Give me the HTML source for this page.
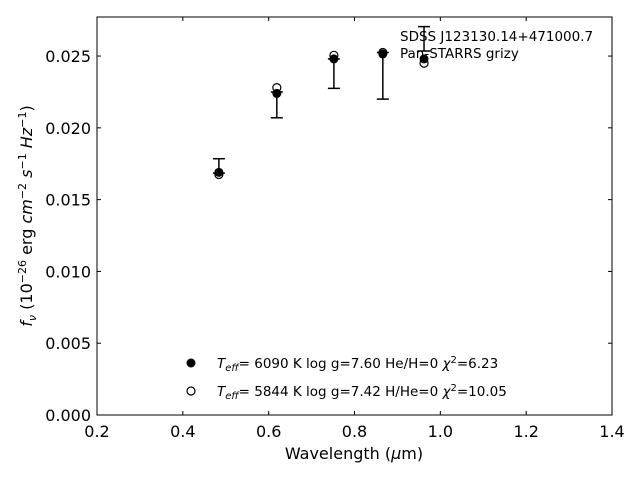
<!DOCTYPE html>
<html><head><meta charset="utf-8"><style>
html,body{margin:0;padding:0;background:#fff;}
svg{display:block;font-family:"DejaVu Sans","Liberation Sans",sans-serif;}
</style></head><body>
<svg id="chart" width="640" height="480"></svg>
<script>
const bands = ["g","r","i","z","y"];
const wavelengths = [0.484, 0.619, 0.752, 0.866, 0.962];
const obsLow = [0.01685, 0.02070, 0.02275, 0.02200, 0.02535];
const obsHigh = [0.01785, 0.02250, 0.02480, 0.02525, 0.02705];
const model1 = [0.01690, 0.02240, 0.02480, 0.02515, 0.02480];
const model2 = [0.01675, 0.02280, 0.02505, 0.02525, 0.02450];
const xTicks = [0.2,0.4,0.6,0.8,1.0,1.2,1.4];
const xTickLabels = ["0.2","0.4","0.6","0.8","1.0","1.2","1.4"];
const yTicks = [0,0.005,0.01,0.015,0.02,0.025];
const yTickLabels = ["0.000","0.005","0.010","0.015","0.020","0.025"];

const NS="http://www.w3.org/2000/svg";
const svg=document.getElementById('chart');
const L=97,R=612,T=17,B=415;
const xMin=0.2,xMax=1.4,yMin=0,yMax=0.02772;
const xs=v=>L+(v-xMin)/(xMax-xMin)*(R-L);
const ys=v=>B-(v-yMin)/(yMax-yMin)*(B-T);
function mk(tag,attrs,parent){const e=document.createElementNS(NS,tag);for(const k in attrs)e.setAttribute(k,attrs[k]);(parent||svg).appendChild(e);return e;}

const frame=mk('rect',{x:L,y:T,width:R-L,height:B-T,fill:'none',stroke:'#000','stroke-width':1});



xTicks.forEach((t,i)=>{
  const x=xs(t);
  const g=mk('g',{});
  
  
  mk('line',{x1:x,x2:x,y1:B,y2:B-4,stroke:'#000'},g);
  mk('line',{x1:x,x2:x,y1:T,y2:T+4,stroke:'#000'},g);
  const tx=mk('text',{x:x,y:B+22,'text-anchor':'middle','font-size':16},g);
  tx.textContent=xTickLabels[i];
});
yTicks.forEach((t,i)=>{
  const y=ys(t);
  const g=mk('g',{});
  
  
  mk('line',{x1:L,x2:L+4,y1:y,y2:y,stroke:'#000'},g);
  mk('line',{x1:R,x2:R-4,y1:y,y2:y,stroke:'#000'},g);
  const tx=mk('text',{x:L-6,y:y+6,'text-anchor':'end','font-size':16},g);
  tx.textContent=yTickLabels[i];
});

// error bars
wavelengths.forEach((w,i)=>{
  const g=mk('g',{stroke:'#000','stroke-width':1.5});
  
  
  const x=xs(w),y1=ys(obsLow[i]),y2=ys(obsHigh[i]);
  mk('line',{x1:x,x2:x,y1:y1,y2:y2},g);
  mk('line',{x1:x-6,x2:x+6,y1:y1,y2:y1},g);
  mk('line',{x1:x-6,x2:x+6,y1:y2,y2:y2},g);
});
wavelengths.forEach((w,i)=>{
  const c=mk('circle',{cx:xs(w),cy:ys(model2[i]),r:4,fill:'#fff',stroke:'#000','stroke-width':1.2});
  
  
});
wavelengths.forEach((w,i)=>{
  const c=mk('circle',{cx:xs(w),cy:ys(model1[i]),r:4.5,fill:'#000'});
  
  
});
</script>
<svg width="640" height="480" style="position:absolute;left:0;top:0;font-family:'DejaVu Sans','Liberation Sans',sans-serif;">
  <text x="400" y="41" font-size="13.5">SDSS J123130.14+471000.7</text>
  <text x="400" y="58" font-size="13.5">Pan-STARRS grizy</text>
  <g font-size="13.5">
    <circle cx="191" cy="363" r="4.5" fill="#000"/>
    <text x="217" y="368"><tspan font-style="italic">T</tspan><tspan font-style="italic" font-size="10" dy="3">eff</tspan><tspan dy="-3">=  6090 K  log g=7.60  He/H=0  </tspan><tspan font-style="italic">χ</tspan><tspan font-size="10" dy="-5">2</tspan><tspan dy="5">=6.23</tspan></text>
    <circle cx="191" cy="391" r="4" fill="#fff" stroke="#000" stroke-width="1.2"/>
    <text x="217" y="396"><tspan font-style="italic">T</tspan><tspan font-style="italic" font-size="10" dy="3">eff</tspan><tspan dy="-3">=  5844 K  log g=7.42  H/He=0  </tspan><tspan font-style="italic">χ</tspan><tspan font-size="10" dy="-5">2</tspan><tspan dy="5">=10.05</tspan></text>
  </g>
  <text x="354" y="459" font-size="16" text-anchor="middle">Wavelength (<tspan font-style="italic">μ</tspan>m)</text>
  <text transform="translate(32,216) rotate(-90)" font-size="16" text-anchor="middle"><tspan font-style="italic">f</tspan><tspan font-style="italic" font-size="11" dy="4">ν</tspan><tspan dy="-4"> (10</tspan><tspan font-size="11" dy="-6">−26</tspan><tspan dy="6"> erg </tspan><tspan font-style="italic">cm</tspan><tspan font-size="11" dy="-6">−2</tspan><tspan dy="6"> </tspan><tspan font-style="italic">s</tspan><tspan font-size="11" dy="-6">−1</tspan><tspan dy="6"> </tspan><tspan font-style="italic">Hz</tspan><tspan font-size="11" dy="-6">−1</tspan><tspan dy="6">)</tspan></text>
</svg>
</body></html>
